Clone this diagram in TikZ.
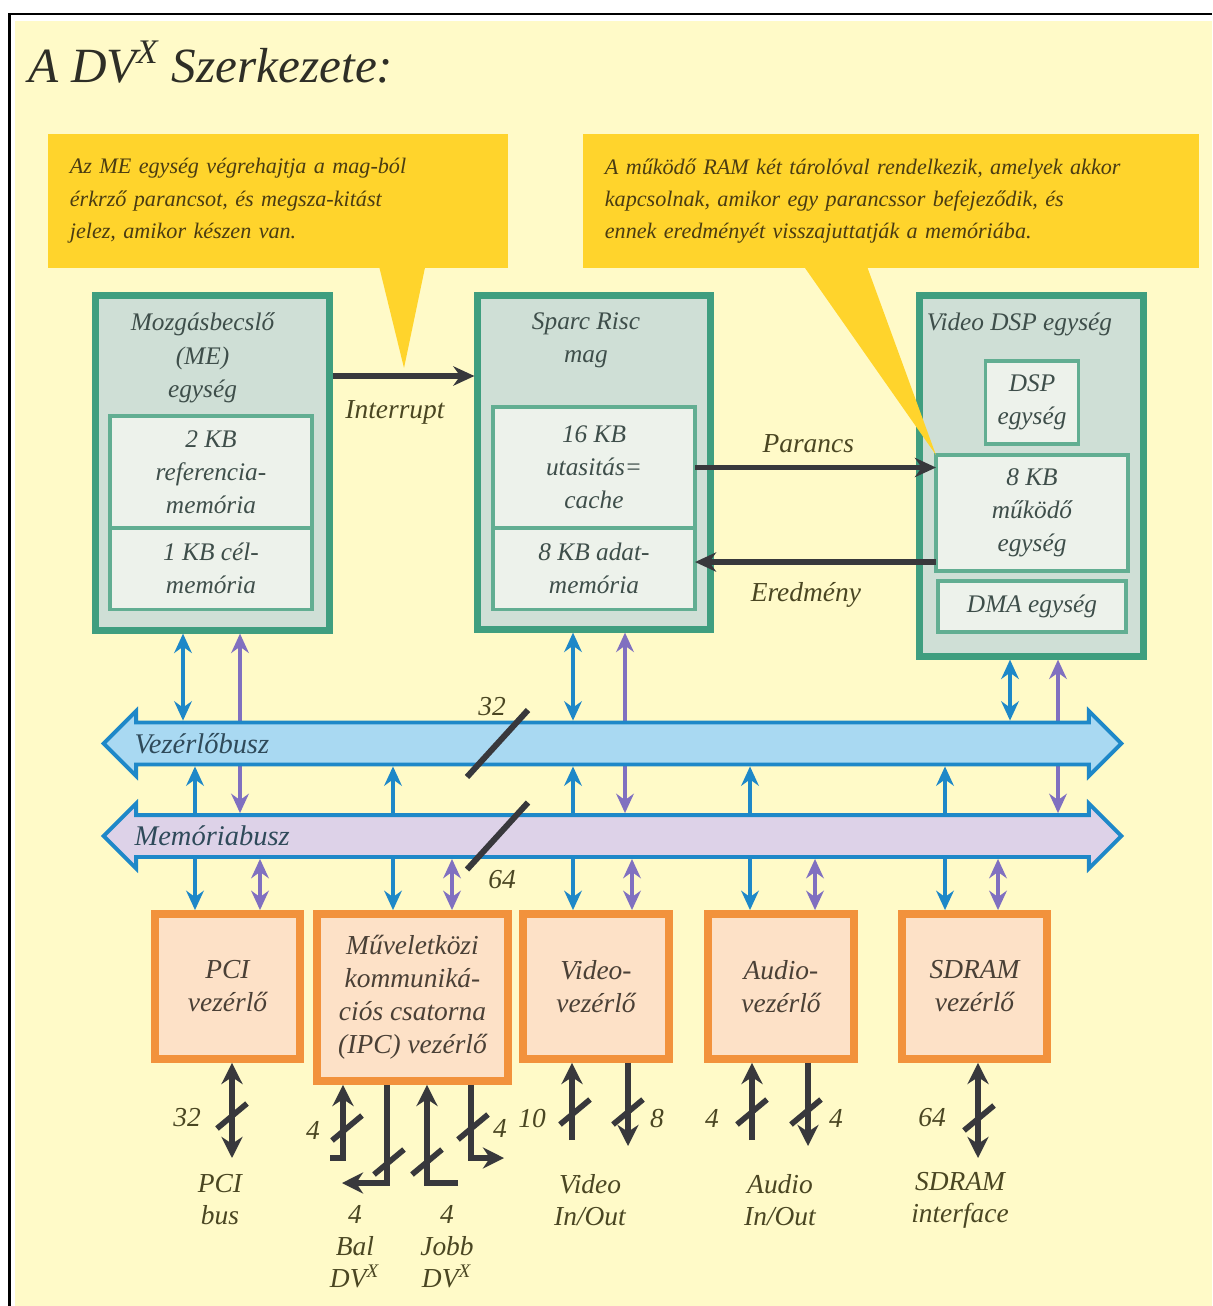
\documentclass[tikz,border=0pt]{standalone}
\usepackage{fontspec}
\setmainfont{Liberation Serif}
\usetikzlibrary{arrows.meta,positioning,calc,shapes.arrows}
\pgfdeclarelayer{bg}
\pgfdeclarelayer{wires}
\pgfsetlayers{bg,wires,main}

\definecolor{bgyellow}{HTML}{FFFAC8}
\definecolor{callyellow}{HTML}{FFD42C}
\definecolor{calltext}{HTML}{4A3C12}
\definecolor{titletext}{HTML}{2E2E26}
\definecolor{unitgreen}{HTML}{3F9E7F}
\definecolor{unitfill}{HTML}{CFDFD6}
\definecolor{subgreen}{HTML}{62AE92}
\definecolor{subfill}{HTML}{EDF2EB}
\definecolor{unittext}{HTML}{3E4E4A}
\definecolor{darkarrow}{HTML}{38383C}
\definecolor{lbltext}{HTML}{4A4622}
\definecolor{busblue}{HTML}{1E88C8}
\definecolor{cbusfill}{HTML}{A9D9F2}
\definecolor{mbusfill}{HTML}{DDD2E8}
\definecolor{buspurple}{HTML}{8070C0}
\definecolor{bustext}{HTML}{2F4A5A}
\definecolor{ctrlorange}{HTML}{F2923C}
\definecolor{ctrlfill}{HTML}{FDE1C7}
\definecolor{ctrltext}{HTML}{4A4036}

\tikzset{
  title/.style={text=titletext, inner sep=0pt, font=\fontsize{14}{16}\selectfont\itshape},
  callout/.style={fill=callyellow, text=calltext, align=left, inner xsep=0.22cm,
    font=\fontsize{6.3}{9.2}\selectfont\itshape},
  unit/.style={draw=unitgreen, line width=2pt, fill=unitfill},
  unittitle/.style={text=unittext, align=center, inner sep=0pt,
    font=\fontsize{7.2}{9.4}\selectfont\itshape},
  sub/.style={draw=subgreen, line width=0.9pt, fill=subfill, align=center,
    text=unittext, outer sep=0pt, font=\fontsize{7.2}{9.4}\selectfont\itshape},
  ctrl/.style={draw=ctrlorange, line width=2.2pt, fill=ctrlfill, align=center,
    text=ctrltext, font=\fontsize{7.8}{9.4}\selectfont\itshape},
  bus/.style={double arrow, draw=busblue, line width=1.1pt, double arrow head extend=0.115cm,
    minimum height=10.17cm, inner xsep=0pt, inner ysep=0.19cm},
  buslabel/.style={text=bustext, inner sep=0pt, font=\fontsize{8.1}{9}\selectfont\itshape},
  cline/.style={draw=busblue, line width=1.3pt, >={Stealth[length=5.5pt,width=5pt]}, <->},
  mline/.style={draw=buspurple, line width=1.3pt, >={Stealth[length=5.5pt,width=5pt]}, <->},
  sigarrow/.style={draw=darkarrow, line width=1.7pt, -{Stealth[length=6pt,width=5.5pt]}},
  io/.style={draw=darkarrow, line width=1.9pt, >={Stealth[length=6pt,width=6pt]}},
  tickmark/.style={draw=darkarrow, line width=1.6pt},
  busslash/.style={draw=darkarrow, line width=1.7pt},
  lbl/.style={text=lbltext, inner sep=0pt, align=center,
    font=\fontsize{7.8}{9.1}\selectfont\itshape},
}

\begin{document}
\begin{tikzpicture}[x=0.01cm, y=-0.01cm]
\useasboundingbox (0,0) rectangle (1212,1306);
\begin{pgfonlayer}{bg}
  \fill[white] (0,0) rectangle (1212,1306);
  \fill[bgyellow] (15,21) rectangle (1212,1306);
  \draw[black, line width=0.85pt] (9.5,1306) -- (9.5,14) -- (1212,14);
\end{pgfonlayer}

% title and callouts
\node[title, anchor=west] (ttl) at (28,62) {A DV\textsuperscript{X} Szerkezete:};
\node[callout, text width=4.16cm, minimum height=1.34cm] (callA) at (278,201)
  {Az ME egység végrehajtja a mag-ból\\érkrző parancsot, és megsza-kitást\\jelez, amikor készen van.};
\node[callout, text width=5.72cm, minimum height=1.34cm] (callB) at (891,201)
  {A működő RAM két tárolóval rendelkezik, amelyek akkor\\kapcsolnak, amikor egy parancssor befejeződik, és\\ennek eredményét visszajuttatják a memóriába.};

% processing units
\node[unit, minimum width=2.33cm, minimum height=3.34cm] (me) at (212.5,463) {};
\node[unittitle, below=0.2cm of me.north, xshift=-0.1cm] (metitle) {Mozgásbecslő\\(ME)\\egység};
\node[sub, minimum width=2.02cm, minimum height=1.12cm] (rm) at (211,472) {2 KB\\referencia-\\memória};
\node[sub, minimum width=2.02cm, minimum height=0.81cm, below=0pt of rm] (cm) {1 KB cél-\\memória};

\node[unit, minimum width=2.32cm, minimum height=3.33cm] (sparc) at (594,462.5) {};
\node[unittitle, below=0.2cm of sparc.north, xshift=-0.08cm] (sparctitle) {Sparc Risc\\mag};
\node[sub, minimum width=2.02cm, minimum height=1.21cm] (ic) at (594,467.5) {16 KB\\utasitás=\\cache};
\node[sub, minimum width=2.02cm, minimum height=0.81cm, below=0pt of ic] (dm) {8 KB adat-\\memória};

\node[unit, minimum width=2.23cm, minimum height=3.6cm] (vdsp) at (1031.5,476) {};
\node[unittitle, below=0.2cm of vdsp.north, xshift=-0.12cm] (vdsptitle) {Video DSP egység};
\node[sub, minimum width=0.9cm, minimum height=0.83cm] (dsp) at (1032,402.5) {DSP\\egység};
\node[sub, minimum width=1.92cm, minimum height=1.16cm] (wm) at (1032,513) {8 KB\\működő\\egység};
\node[sub, minimum width=1.88cm, minimum height=0.51cm] (dma) at (1032,606.5) {DMA egység};

% signals between the units
\coordinate (irqS) at ($(me.east)+(0,-87)$);
\draw[sigarrow] (irqS) -- (irqS -| sparc.west) node[lbl, pos=0.44, below=0.22cm] (irqlbl) {Interrupt};
\draw[sigarrow] (ic.east) -- (ic.east -| wm.west) node[lbl, pos=0.47, above=0.12cm] (cmdlbl) {Parancs};
\coordinate (resS) at ($(wm.south west)+(0,-9)$);
\draw[sigarrow] (resS) -- (resS -| dm.east) node[lbl, pos=0.54, below=0.17cm] (reslbl) {Eredmény};

% callout pointers
\coordinate (tipA) at (404,368);
\fill[callyellow] ($(callA.south west)+(332,-2)$) -- ($(callA.south west)+(378,-2)$) -- (tipA) -- cycle;
\fill[callyellow] ($(callB.south west)+(222,-2)$) -- ($(callB.south west)+(285,-2)$) -- (wm.north west) -- cycle;

% buses
\node[bus, fill=cbusfill] (cbus) at (612.5,743.5) {};
\node[bus, fill=mbusfill] (mbus) at (612.5,836) {};
\node[buslabel, anchor=west] (cbuslbl) at ($(cbus.west)+(33,0)$) {Vezérlőbusz};
\node[buslabel, anchor=west] (mbuslbl) at ($(mbus.west)+(33,0)$) {Memóriabusz};
\foreach \b in {cbus, mbus}
  \draw[busslash] ($(\b.center)+(-84.5,-33.5)$) -- ($(\b.center)+(-145.5,33.5)$);
\node[lbl] (w32) at (492,707) {32};
\node[lbl] (w64) at (502,880) {64};

% controllers
\node[ctrl, minimum width=1.45cm, minimum height=1.45cm] (pci) at (227.5,986.5) {PCI\\vezérlő};
\node[ctrl, minimum width=1.91cm, minimum height=1.67cm] (ipc) at (412.5,997.5) {Műveletközi\\kommuniká-\\ciós csatorna\\(IPC) vezérlő};
\node[ctrl, minimum width=1.46cm, minimum height=1.45cm] (video) at (596,986.5) {Video-\\vezérlő};
\node[ctrl, minimum width=1.46cm, minimum height=1.45cm] (audio) at (781,986.5) {Audio-\\vezérlő};
\node[ctrl, minimum width=1.45cm, minimum height=1.45cm] (sdram) at (974.5,986.5) {SDRAM\\vezérlő};

% bus connections
\begin{pgfonlayer}{wires}
  \foreach \n/\c/\p in {me/-29.5/27.5, sparc/-21/31, vdsp/-21.5/26.5}{
    \coordinate (cw) at ($(\n.south)+(\c,0)$);
    \coordinate (mw) at ($(\n.south)+(\p,0)$);
    \draw[cline] (cw) -- (cw |- cbus.north);
    \draw[mline] (mw) -- (mw |- mbus.north);
  }
  \foreach \n/\c/\p in {pci/-32.5/32.5, ipc/-19.5/39.5, video/-23/36, audio/-31/34, sdram/-29.5/23.5}{
    \coordinate (cw) at ($(\n.north)+(\c,0)$);
    \coordinate (mw) at ($(\n.north)+(\p,0)$);
    \draw[cline] (cw |- cbus.south) -- (cw);
    \draw[mline] (mw |- mbus.south) -- (mw);
  }
\end{pgfonlayer}

% external ports
\coordinate (pciEnd) at (232,1158);
\draw[io,<->] (pciEnd |- pci.south) -- (pciEnd);
\coordinate (balIn) at (330,1158);
\coordinate (balInC) at (343,1158);
\draw[io,->] (balIn) -- (balInC) -- (balInC |- ipc.south);
\coordinate (balOutC) at (387,1183);
\coordinate (balOut) at (342,1183);
\draw[io,->] (balOutC |- ipc.south) -- (balOutC) -- (balOut);
\coordinate (jobbIn) at (458,1183);
\coordinate (jobbInC) at (427,1183);
\draw[io,->] (jobbIn) -- (jobbInC) -- (jobbInC |- ipc.south);
\coordinate (jobbOutC) at (471,1158);
\coordinate (jobbOut) at (504,1158);
\draw[io,->] (jobbOutC |- ipc.south) -- (jobbOutC) -- (jobbOut);
\coordinate (vidIn) at (572,1140);
\draw[io,->] (vidIn) -- (vidIn |- video.south);
\coordinate (vidOut) at (628,1146);
\draw[io,->] (vidOut |- video.south) -- (vidOut);
\coordinate (audIn) at (752,1140);
\draw[io,->] (audIn) -- (audIn |- audio.south);
\coordinate (audOut) at (808,1146);
\draw[io,->] (audOut |- audio.south) -- (audOut);
\coordinate (sdrEnd) at (978,1158);
\draw[io,<->] (sdrEnd |- sdram.south) -- (sdrEnd);
\foreach \p in {{232,1116},{347,1128},{389,1162},{427,1162},{473,1127},{575,1112},{628,1112},{752,1112},{806,1112},{979,1118}}
  \draw[tickmark] ($(\p)+(-15,12.5)$) -- ($(\p)+(15,-12.5)$);

\node[lbl] (n32) at (187,1118) {32};
\node[lbl] (nbal) at (313,1130) {4};
\node[lbl] (njobb) at (500,1128) {4};
\node[lbl] (n10) at (532,1118) {10};
\node[lbl] (n8) at (657,1118) {8};
\node[lbl] (naudin) at (712,1118) {4};
\node[lbl] (naudout) at (836,1118) {4};
\node[lbl] (n64) at (932,1118) {64};

\node[lbl] (pcibus) at (220,1200) {PCI\\bus};
\node[lbl] (bal) at (355,1247) {4\\Bal\\DV\textsuperscript{X}};
\node[lbl] (jobb) at (447,1247) {4\\Jobb\\DV\textsuperscript{X}};
\node[lbl] (vidio) at (590,1200) {Video\\In/Out};
\node[lbl] (audio io) at (780,1200) {Audio\\In/Out};
\node[lbl] (sdrio) at (960,1200) {SDRAM\\interface};
\end{tikzpicture}
\end{document}
